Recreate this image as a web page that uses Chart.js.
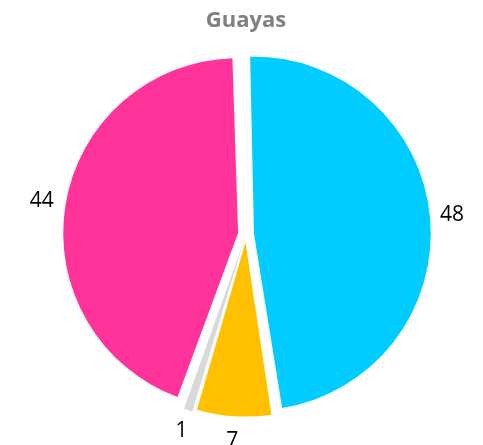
<!DOCTYPE html>
<html>
<head>
<meta charset="utf-8">
<script src="https://cdn.jsdelivr.net/npm/chart.js@4/dist/chart.umd.min.js"></script>
<style>
  html, body { margin: 0; padding: 0; background: #fff; }
  #wrap { width: 483px; height: 445px; }
</style>
</head>
<body>
<div id="wrap"><canvas id="pieChart"></canvas></div>
<script>
const labels = ["A", "B", "C", "D"];
const values = [48, 7, 1, 44];
const colors = ["#00CCFF", "#FFC000", "#D9D9D9", "#FF3399"];

// Draw value labels just outside each slice
const outsideLabels = {
  id: "outsideLabels",
  afterDatasetsDraw(chart) {
    const ctx = chart.ctx;
    const meta = chart.getDatasetMeta(0);
    ctx.save();
    ctx.font = "21px 'Open Sans', sans-serif";
    ctx.fillStyle = "#000";
    ctx.textAlign = "center";
    ctx.textBaseline = "middle";
    meta.data.forEach((arc, i) => {
      const mid = (arc.startAngle + arc.endAngle) / 2;
      const r = arc.outerRadius + 37;
      ctx.fillText(String(values[i]), arc.x + Math.cos(mid) * r, arc.y + Math.sin(mid) * r);
    });
    ctx.restore();
  }
};

new Chart(document.getElementById("pieChart"), {
  type: "pie",
  data: {
    labels: labels,
    datasets: [{ data: values, backgroundColor: colors, borderWidth: 0, offset: 32 }]
  },
  options: {
    responsive: true,
    maintainAspectRatio: false,
    animation: false,
    rotation: -1.6,
    layout: { padding: { top: 0, bottom: 25, left: 9, right: 0 } },
    plugins: {
      legend: { display: false },
      tooltip: { enabled: false },
      title: {
        display: true,
        text: "Guayas",
        color: "#7F7F7F",
        font: { family: "'Open Sans', sans-serif", size: 22, weight: "bold" },
        padding: { top: 8, bottom: 14 }
      }
    }
  },
  plugins: [outsideLabels]
});
</script>
</body>
</html>
